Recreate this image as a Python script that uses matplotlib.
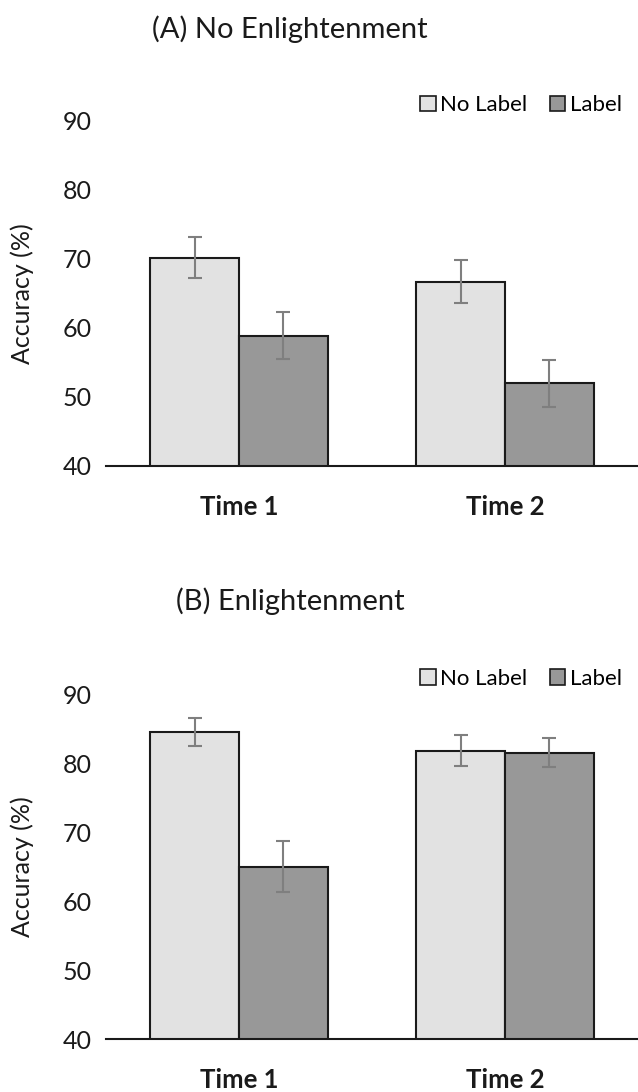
import matplotlib.pyplot as plt
from matplotlib.patches import Patch
import numpy as np

# Data
times = ["Time 1", "Time 2"]
series = ["No Label", "Label"]

no_enl_nolabel = [70.2, 66.7]
no_enl_label = [58.9, 52.0]
no_enl_nolabel_err = [3.0, 3.1]
no_enl_label_err = [3.4, 3.4]

enl_nolabel = [84.5, 81.8]
enl_label = [65.0, 81.5]
enl_nolabel_err = [2.0, 2.2]
enl_label_err = [3.7, 2.1]

panel_titles = ["(A) No Enlightenment", "(B) Enlightenment"]
y_ticks = [40, 50, 60, 70, 80, 90]

colors = ["#e2e2e2", "#989898"]
err_color = "#7f7f7f"

plt.rcParams["font.family"] = ["Lato", "DejaVu Sans"]

fig = plt.figure(figsize=(6.38, 10.92), dpi=100)

panels = [
    (no_enl_nolabel, no_enl_label, no_enl_nolabel_err, no_enl_label_err),
    (enl_nolabel, enl_label, enl_nolabel_err, enl_label_err),
]
bottoms = [0.5733, 0.0485]
title_y = [0.973, 0.449]

x = np.arange(len(times))
w = 1 / 3

for i, (nl, lb, nl_err, lb_err) in enumerate(panels):
    ax = fig.add_axes([0.1661, bottoms[i], 0.8339, 0.3159])
    ax.bar(x - w / 2, nl, width=w, color=colors[0], edgecolor="#1a1a1a", linewidth=1.5, zorder=2)
    ax.bar(x + w / 2, lb, width=w, color=colors[1], edgecolor="#1a1a1a", linewidth=1.5, zorder=2)
    ax.errorbar(x - w / 2, nl, yerr=nl_err, fmt="none", ecolor=err_color, elinewidth=1.5,
                capsize=4.7, capthick=1.5, zorder=3)
    ax.errorbar(x + w / 2, lb, yerr=lb_err, fmt="none", ecolor=err_color, elinewidth=1.5,
                capsize=4.7, capthick=1.5, zorder=3)

    ax.set_xlim(-0.5, 1.5)
    ax.set_ylim(40, 90)
    ax.set_yticks(y_ticks)
    ax.set_xticks(x)
    ax.set_xticklabels(times, fontsize=18.5, fontweight="bold", color="#1a1a1a")
    ax.tick_params(axis="y", length=0, pad=10, labelsize=18, labelcolor="#1a1a1a")
    ax.tick_params(axis="x", length=0, pad=21)
    for side in ["top", "right", "left"]:
        ax.spines[side].set_visible(False)
    ax.spines["bottom"].set_linewidth(1.5)
    ax.spines["bottom"].set_color("#1a1a1a")

    ax.set_ylabel("Accuracy (%)", fontsize=18, color="#1a1a1a")
    ax.yaxis.set_label_coords(-0.135, 0.5)

    handles = [Patch(facecolor=colors[0], edgecolor="#1a1a1a", linewidth=1.2),
               Patch(facecolor=colors[1], edgecolor="#1a1a1a", linewidth=1.2)]
    ax.legend(handles, series, loc="center", bbox_to_anchor=(0.78, 1.045), ncol=2, frameon=False,
              fontsize=16, handlelength=0.7, handleheight=0.7, handletextpad=0.2,
              columnspacing=1.0, borderpad=0)

    fig.text(0.455, title_y[i], panel_titles[i], fontsize=21, ha="center", va="center",
             color="#1a1a1a")

fig.savefig("out.png", dpi=100)
